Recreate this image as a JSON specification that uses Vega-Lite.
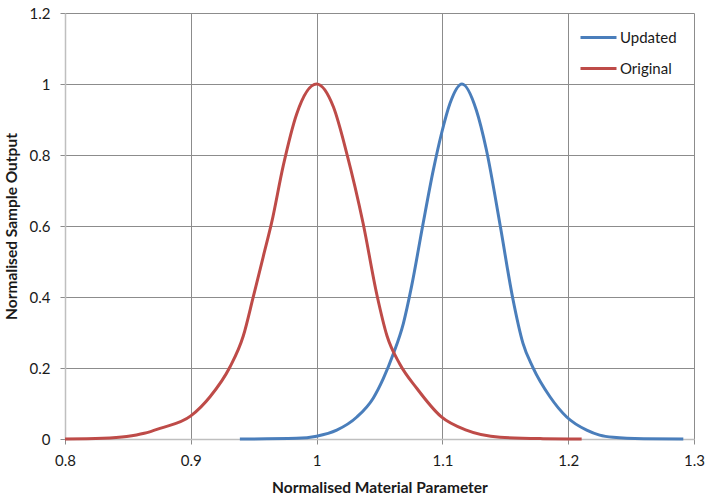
{
  "$schema": "https://vega.github.io/schema/vega-lite/v6.json",
  "width": 629,
  "height": 426,
  "autosize": {"type": "none"},
  "padding": {"left": 65, "top": 13, "right": 12, "bottom": 62},
  "background": "white",
  "config": {
    "view": {"stroke": null},
    "font": "Lato",
    "axis": {
      "labelFont": "Lato",
      "titleFont": "Lato",
      "labelFontSize": 15,
      "titleFontSize": 15.5,
      "titleFontWeight": "bold",
      "labelColor": "#1a1a1a",
      "titleColor": "#1a1a1a",
      "gridColor": "#8c8c8c",
      "gridWidth": 1,
      "domainColor": "#bfbfbf",
      "domainWidth": 1.5,
      "tickColor": "#8c8c8c",
      "tickSize": 5,
      "labelFlush": false
    },
    "legend": {"labelFont": "Lato", "labelFontSize": 15, "labelColor": "#1a1a1a"}
  },
  "data": {
    "values": [
      {"series": "Updated", "x": 0.939, "y": 0},
      {"series": "Updated", "x": 0.984, "y": 0.002},
      {"series": "Updated", "x": 1.0, "y": 0.008},
      {"series": "Updated", "x": 1.016, "y": 0.025},
      {"series": "Updated", "x": 1.032, "y": 0.062},
      {"series": "Updated", "x": 1.045, "y": 0.115},
      {"series": "Updated", "x": 1.053, "y": 0.17},
      {"series": "Updated", "x": 1.061, "y": 0.24},
      {"series": "Updated", "x": 1.069, "y": 0.326},
      {"series": "Updated", "x": 1.0756, "y": 0.432},
      {"series": "Updated", "x": 1.0843, "y": 0.6},
      {"series": "Updated", "x": 1.0928, "y": 0.758},
      {"series": "Updated", "x": 1.0994, "y": 0.862},
      {"series": "Updated", "x": 1.106, "y": 0.945},
      {"series": "Updated", "x": 1.1156, "y": 1.0},
      {"series": "Updated", "x": 1.127, "y": 0.926},
      {"series": "Updated", "x": 1.135, "y": 0.814},
      {"series": "Updated", "x": 1.146, "y": 0.6},
      {"series": "Updated", "x": 1.156, "y": 0.395},
      {"series": "Updated", "x": 1.164, "y": 0.27},
      {"series": "Updated", "x": 1.172, "y": 0.201},
      {"series": "Updated", "x": 1.1855, "y": 0.119},
      {"series": "Updated", "x": 1.1988, "y": 0.062},
      {"series": "Updated", "x": 1.2147, "y": 0.025},
      {"series": "Updated", "x": 1.225, "y": 0.011},
      {"series": "Updated", "x": 1.2358, "y": 0.005},
      {"series": "Updated", "x": 1.26, "y": 0.001},
      {"series": "Updated", "x": 1.2915, "y": 0},
      {"series": "Original", "x": 0.8, "y": 0},
      {"series": "Original", "x": 0.83, "y": 0.002},
      {"series": "Original", "x": 0.849, "y": 0.007},
      {"series": "Original", "x": 0.863, "y": 0.016},
      {"series": "Original", "x": 0.8755, "y": 0.03},
      {"series": "Original", "x": 0.9, "y": 0.065},
      {"series": "Original", "x": 0.9153, "y": 0.119},
      {"series": "Original", "x": 0.931, "y": 0.202},
      {"series": "Original", "x": 0.9417, "y": 0.29},
      {"series": "Original", "x": 0.9497, "y": 0.401},
      {"series": "Original", "x": 0.9576, "y": 0.514},
      {"series": "Original", "x": 0.9643, "y": 0.61},
      {"series": "Original", "x": 0.9735, "y": 0.77},
      {"series": "Original", "x": 0.9841, "y": 0.915},
      {"series": "Original", "x": 1.0, "y": 1.0},
      {"series": "Original", "x": 1.0134, "y": 0.935},
      {"series": "Original", "x": 1.024, "y": 0.804},
      {"series": "Original", "x": 1.037, "y": 0.607},
      {"series": "Original", "x": 1.048, "y": 0.405},
      {"series": "Original", "x": 1.056, "y": 0.29},
      {"series": "Original", "x": 1.066, "y": 0.212},
      {"series": "Original", "x": 1.0796, "y": 0.143},
      {"series": "Original", "x": 1.099, "y": 0.063},
      {"series": "Original", "x": 1.119, "y": 0.025},
      {"series": "Original", "x": 1.1458, "y": 0.005},
      {"series": "Original", "x": 1.18, "y": 0.001},
      {"series": "Original", "x": 1.2107, "y": 0}
    ]
  },
  "mark": {"type": "line", "interpolate": "monotone", "strokeWidth": 3},
  "encoding": {
    "x": {
      "field": "x",
      "type": "quantitative",
      "scale": {"domain": [0.8, 1.3], "nice": false, "zero": false},
      "axis": {
        "values": [0.8, 0.9, 1, 1.1, 1.2, 1.3],
        "format": "~g",
        "title": "Normalised Material Parameter",
        "labelPadding": 9,
        "titlePadding": 12
      }
    },
    "y": {
      "field": "y",
      "type": "quantitative",
      "scale": {"domain": [0, 1.2], "nice": false},
      "axis": {
        "values": [0, 0.2, 0.4, 0.6, 0.8, 1, 1.2],
        "format": "~g",
        "title": "Normalised Sample Output",
        "labelPadding": 10,
        "titlePadding": 10
      }
    },
    "color": {
      "field": "series",
      "type": "nominal",
      "sort": ["Updated", "Original"],
      "scale": {"domain": ["Updated", "Original"], "range": ["#4A7EBB", "#BE4B48"]},
      "legend": {
        "title": null,
        "orient": "none",
        "legendX": 514,
        "legendY": 5,
        "symbolType": "stroke",
        "symbolSize": 1296,
        "symbolStrokeWidth": 3,
        "rowPadding": 3,
        "labelOffset": 2
      }
    }
  }
}
